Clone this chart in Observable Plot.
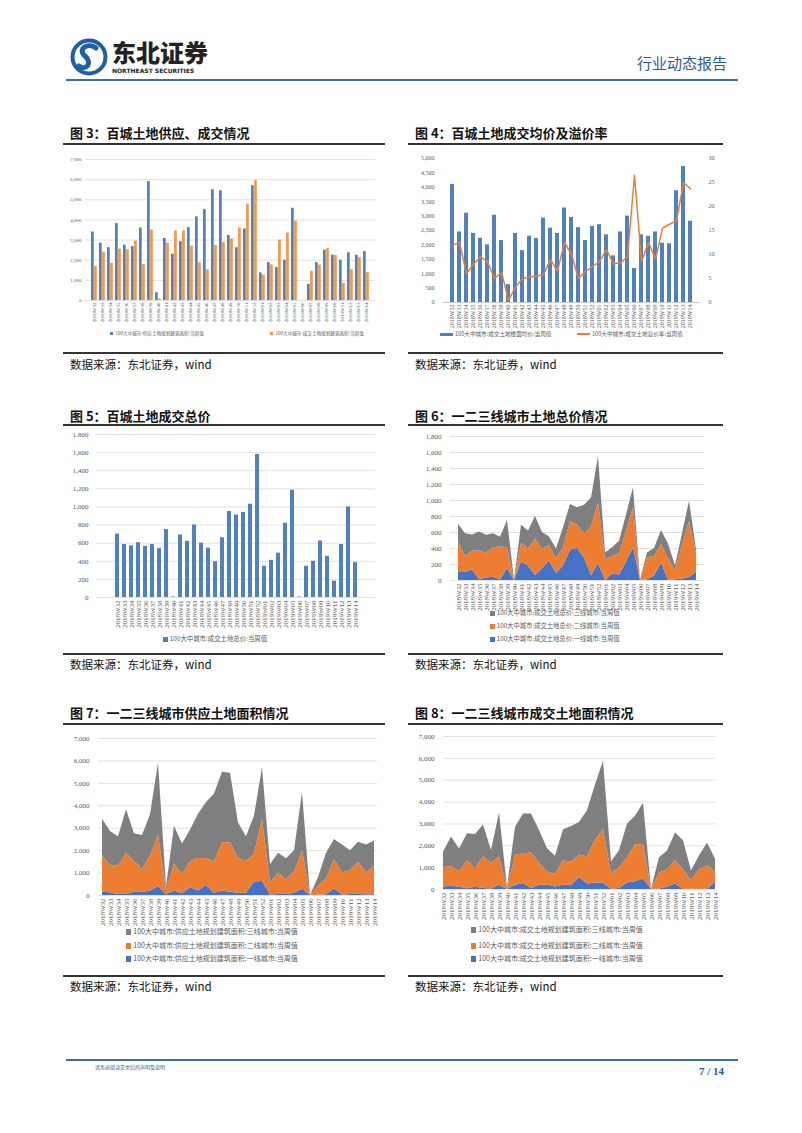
<!DOCTYPE html>
<html><head><meta charset="utf-8">
<script src="https://cdn.jsdelivr.net/npm/d3@7"></script>
<script src="https://cdn.jsdelivr.net/npm/@observablehq/plot@0.6"></script>
<style>
body{margin:0;background:#fff;}
#page{position:relative;width:802px;height:1133px;overflow:hidden;font-family:"Noto Sans CJK SC",sans-serif;}
#page svg{overflow:visible;}
.t{position:absolute;white-space:nowrap;line-height:1;}
.title{font-size:13px;font-weight:700;color:#111;}
.hr{position:absolute;background:#333;}
.src{font-size:11.5px;color:#111;}
.lg{color:#595959;white-space:nowrap;position:absolute;line-height:1;}
.sw{display:inline-block;vertical-align:middle;margin-right:2px;}
</style></head><body><div id="page"></div>
<script>
// ---------- data ----------
const weeks = ["2018W32","2018W33","2018W34","2018W35","2018W36","2018W37","2018W38","2018W39","2018W40","2018W41","2018W42","2018W43","2018W44","2018W45","2018W46","2018W47","2018W48","2018W49","2018W50","2018W51","2018W52","2019W01","2019W02","2019W03","2019W04","2019W05","2019W06","2019W07","2019W08","2019W09","2019W10","2019W11","2019W12","2019W13","2019W14"];
// Fig 3
const supplyArea = [3400,2850,2620,3820,2750,2670,3600,5900,380,3080,2300,2920,3620,4150,4520,5500,5450,3230,2620,3550,5700,1370,1880,1640,2000,4580,0,800,1880,2500,2250,2000,2370,2250,2430];
const dealArea = [1700,2400,1850,2550,2520,2950,1790,3500,80,2850,3450,3450,2700,1870,1520,2730,2880,3060,3600,4780,5950,1260,1770,3000,3350,3950,0,1450,1760,2580,2230,850,1530,2130,1380];
// Fig 4
const avgPrice = [4100,2450,3100,2400,2230,2000,3030,2150,620,2400,1800,2300,2220,2930,2580,2400,3280,2950,2600,2150,2640,2700,2350,1620,2450,3000,1180,2350,2300,2450,2060,2040,3880,4720,2820];
const premium = [12,12.5,6,8,9.5,8.5,5,6.3,0.5,3.2,5,5.3,5.5,5.8,9,6.5,12.5,10,5,6.5,7.5,8.5,11,8,8.3,9.5,26.5,8.5,12.5,9,15.5,16.3,17,25,23.7];
// Fig 5
const totalPrice = [700,585,570,605,565,585,540,750,5,690,620,800,600,545,395,660,950,910,940,1030,1580,345,410,490,820,1185,5,345,400,625,455,180,585,1000,385];
// Fig 6 (stacked by tier)
const price1 = [100,100,130,10,30,40,5,150,0,230,180,60,150,240,90,180,380,400,280,60,210,0,80,70,230,410,0,10,60,220,0,10,20,40,100];
const price2 = [380,200,240,360,310,370,415,260,0,240,210,460,240,200,180,230,360,290,300,610,760,260,220,260,390,500,0,270,240,230,270,120,410,700,230];
const price3 = [220,285,200,235,225,175,120,340,5,220,230,280,210,105,125,250,210,220,360,360,580,85,110,160,200,250,5,65,100,175,185,50,155,250,55];
// Fig 7
const supply1 = [150,120,50,50,150,130,200,400,50,200,80,350,200,450,100,200,150,100,100,600,620,20,50,50,100,280,0,10,30,300,10,50,50,30,30];
const supply2 = [1600,1230,1250,1820,1380,1020,1550,2300,200,1200,870,1150,1450,1200,1400,2150,2200,1550,1420,1250,2780,530,950,650,950,1720,0,390,720,1300,990,1050,1430,970,1270];
const supply3 = [1650,1500,1320,1950,1220,1520,1850,3200,130,1680,1350,1420,1970,2500,3020,3150,3100,1580,1100,1700,2300,820,880,940,950,2580,0,400,1130,900,1250,900,890,1250,1130];
// Fig 8
const deal1 = [120,150,100,30,100,50,20,200,0,200,280,50,200,200,120,200,200,550,250,300,300,0,50,300,350,480,0,20,100,250,0,10,0,10,330];
const deal2 = [880,900,730,1290,850,1450,1180,1300,50,1380,1340,1630,1000,600,580,1120,1050,1030,1250,1950,2450,720,950,1150,1700,1570,0,730,800,1070,900,390,900,1070,500];
const deal3 = [700,1350,1020,1230,1570,1450,590,2000,30,1270,1830,1770,1500,1070,820,1410,1630,1480,2100,2530,3120,540,770,1550,1300,1900,0,700,860,1260,1330,450,630,1050,550];

const tiers = ["一线城市","二线城市","三线城市"];
const BLUE = "#4F81BD", ORANGE = "#F79646", ABLUE = "#4472C4", AORANGE = "#ED7D31", GRAY = "#7F7F7F", GRID = "#d9d9d9";

// ---------- helpers ----------
const page = document.getElementById("page");
function put(el, left, top){ el.style.position="absolute"; el.style.left=left+"px"; el.style.top=top+"px"; page.appendChild(el); return el; }
function text(str, cls, left, top, extra){ const d=document.createElement("div"); d.className="t "+cls; d.textContent=str; if(extra) Object.assign(d.style, extra); return put(d,left,top); }
function hr(left, top, w, h, color){ const d=document.createElement("div"); d.className="hr"; Object.assign(d.style,{left:left+"px",top:top+"px",width:w+"px",height:h+"px",background:color||"#333"}); page.appendChild(d); }
function legendItem(label, color, left, top, size, kind){
  const d=document.createElement("div"); d.className="lg"; d.style.fontSize=size+"px";
  const s=document.createElement("span"); s.className="sw"; s.style.background=color;
  if(kind==="line"){ s.style.width="13px"; s.style.height="2px"; }
  else if(kind==="wide"){ s.style.width="13px"; s.style.height="3px"; }
  else { s.style.width=(size*0.75)+"px"; s.style.height=(size*0.75)+"px"; }
  d.appendChild(s); d.appendChild(document.createTextNode(label));
  return put(d,left,top);
}
const baseStyle = (fs)=>({background:"transparent", fontFamily:"'Liberation Serif', serif", fontSize:fs+"px", color:"#595959", overflow:"visible"});
const fmt = d3.format(",");

// ---------- header ----------
const logo = document.createElementNS("http://www.w3.org/2000/svg","svg");
logo.setAttribute("width","40"); logo.setAttribute("height","40");
logo.innerHTML = '<circle cx="20" cy="20" r="16.5" fill="none" stroke="#1f5fa6" stroke-width="4"/>'+
 '<path d="M27 11 C 19 5, 8 12, 16 19 C 24 26, 17 34, 10 29" fill="none" stroke="#1f5fa6" stroke-width="5" stroke-linecap="round"/>';
put(logo, 69, 37);
text("东北证券","",112,40,{fontSize:"24px",fontWeight:"900",color:"#222"});
text("NORTHEAST SECURITIES","",112,68,{fontSize:"6px",fontWeight:"700",color:"#222",fontFamily:"'DejaVu Sans',sans-serif"});
text("行业动态报告","",637,55,{fontSize:"15px",color:"#2a5b9a"});
hr(66,79,672,2,"#3a6ea5");
// footer
hr(66,1059,672,2,"#3a6ea5");
text("请务必阅读正文后的声明及说明","",95,1064,{fontSize:"5px",color:"#2a5b9a"});
text("7 / 14","",699,1066,{fontSize:"11px",fontWeight:"700",color:"#2a5b9a",fontFamily:"'Liberation Serif',serif"});

// ---------- section frames ----------
function frame(title, col, tTop, lineY, botY, srcY){
  const L = col===0 ? 63 : 408, W = col===0 ? 322 : 315;
  text(title,"title",L+7,tTop);
  hr(L,lineY,W,2,"#333");
  hr(L,botY,W,1.5,"#333");
  text("数据来源：东北证券，wind","src",L+7,srcY);
}
frame("图 3：百城土地供应、成交情况",0,126,143,352,359);
frame("图 4：百城土地成交均价及溢价率",1,126,143,352,359);
frame("图 5：百城土地成交总价",0,409,424,653,659);
frame("图 6：一二三线城市土地总价情况",1,409,424,653,659);
frame("图 7：一二三线城市供应土地面积情况",0,706,723,975,981);
frame("图 8：一二三线城市成交土地面积情况",1,706,723,975,981);

// ---------- Fig 3 ----------
{
  const data = weeks.map((w,i)=>({week:w, supply:supplyArea[i], deal:dealArea[i]}));
  const ticks = d3.range(0,7001,1000);
  const p = Plot.plot({
    width:320, height:172, marginLeft:25, marginRight:5, marginTop:9, marginBottom:22,
    style: baseStyle(5),
    x:{domain:weeks, padding:0, tickSize:0, tickRotate:-90, tickPadding:2, label:null},
    y:{domain:[0,7000], ticks, tickSize:0, tickPadding:4, tickFormat:fmt, label:null},
    marks:[
      Plot.ruleY(ticks,{stroke:GRID, strokeWidth:0.8}),
      Plot.barY(data,{x:"week", y:"supply", fill:BLUE, insetLeft:1, insetRight:4.3}),
      Plot.barY(data,{x:"week", y:"deal", fill:ORANGE, insetLeft:4.1, insetRight:1.2})
    ]
  });
  put(p,60,150);
  legendItem("100大中城市:供应土地规划建筑面积:当周值",BLUE,110,331,4.6);
  legendItem("100大中城市:成交土地规划建筑面积:当周值",ORANGE,270,331,4.6);
}

// ---------- Fig 4 (dual axis, two overlaid plots) ----------
{
  const data = weeks.map((w,i)=>({week:w, price:avgPrice[i], rate:premium[i]}));
  const common = {width:315, height:177, marginLeft:37, marginRight:20, marginTop:8, marginBottom:25};
  const p1 = Plot.plot({
    ...common, style: baseStyle(6),
    x:{domain:weeks, padding:0.42, tickSize:0, tickRotate:-90, tickPadding:2, label:null},
    y:{domain:[0,5000], ticks:d3.range(0,5001,500), tickSize:0, tickPadding:8, tickFormat:fmt, label:null},
    marks:[
      Plot.barY(data,{x:"week", y:"price", fill:BLUE}),
      Plot.ruleY([0],{stroke:"#bfbfbf", strokeWidth:0.8})
    ]
  });
  const p2 = Plot.plot({
    ...common, style: baseStyle(6),
    x:{domain:weeks, padding:0.42, axis:null},
    y:{domain:[0,30], ticks:d3.range(0,31,5), tickSize:0, tickPadding:8, axis:"right", label:null},
    marks:[
      Plot.line(data,{x:"week", y:"rate", stroke:AORANGE, strokeWidth:1.5})
    ]
  });
  put(p1,405,150); put(p2,405,150);
  legendItem("100大中城市:成交土地楼面均价:当周值",BLUE,440,332,5.6,"wide");
  legendItem("100大中城市:成交土地溢价率:当周值",AORANGE,577,332,5.6,"line");
}

// ---------- Fig 5 ----------
{
  const data = weeks.map((w,i)=>({week:w, v:totalPrice[i]}));
  const ticks = d3.range(0,1801,200);
  const p = Plot.plot({
    width:320, height:202, marginLeft:36, marginRight:5, marginTop:9, marginBottom:30,
    style: baseStyle(7),
    x:{domain:weeks, padding:0.5, tickSize:0, tickRotate:-90, tickPadding:3, label:null},
    y:{domain:[0,1800], ticks, tickSize:0, tickPadding:8, tickFormat:fmt, label:null},
    marks:[
      Plot.ruleY(ticks,{stroke:GRID, strokeWidth:0.8}),
      Plot.barY(data,{x:"week", y:"v", fill:BLUE})
    ]
  });
  put(p,60,425);
  legendItem("100大中城市:成交土地总价:当周值",BLUE,163,636,6.4);
}

// ---------- stacked area helper ----------
function areaChart(s1,s2,s3,domainMax,step,opts,left,top){
  const data = [];
  [s1,s2,s3].forEach((s,k)=>weeks.forEach((w,i)=>data.push({week:w, tier:tiers[k], v:s[i]})));
  const ticks = d3.range(0,domainMax+1,step);
  const p = Plot.plot({
    ...opts, style: baseStyle(7),
    x:{type:"point", domain:weeks, padding:0, tickSize:0, tickRotate:-90, tickPadding:3, label:null},
    y:{domain:[0,domainMax], ticks, tickSize:0, tickPadding:9, tickFormat:fmt, label:null},
    color:{domain:tiers, range:[ABLUE,AORANGE,GRAY]},
    marks:[
      Plot.ruleY(ticks,{stroke:GRID, strokeWidth:0.8}),
      Plot.areaY(data,{x:"week", y:"v", fill:"tier", z:"tier"})
    ]
  });
  put(p,left,top);
}

// ---------- Fig 6 ----------
areaChart(price1,price2,price3,1800,200,{width:305,height:183,marginLeft:45,marginRight:6,marginTop:11,marginBottom:28},405,425);
legendItem("100大中城市:成交土地总价:三线城市:当周值",GRAY,490,610,6.3);
legendItem("100大中城市:成交土地总价:二线城市:当周值",AORANGE,490,623,6.3);
legendItem("100大中城市:成交土地总价:一线城市:当周值",ABLUE,490,636,6.3);

// ---------- Fig 7 ----------
areaChart(supply1,supply2,supply3,7000,1000,{width:320,height:200,marginLeft:38,marginRight:3,marginTop:13,marginBottom:30},60,725);
legendItem("100大中城市:供应土地规划建筑面积:三线城市:当周值",GRAY,126,928,7);
legendItem("100大中城市:供应土地规划建筑面积:二线城市:当周值",AORANGE,126,942,7);
legendItem("100大中城市:供应土地规划建筑面积:一线城市:当周值",ABLUE,126,955,7);

// ---------- Fig 8 ----------
areaChart(deal1,deal2,deal3,7000,1000,{width:315,height:194,marginLeft:38,marginRight:5,marginTop:11,marginBottom:30},405,725);
legendItem("100大中城市:成交土地规划建筑面积:三线城市:当周值",GRAY,471,926,7);
legendItem("100大中城市:成交土地规划建筑面积:二线城市:当周值",AORANGE,471,942,7);
legendItem("100大中城市:成交土地规划建筑面积:一线城市:当周值",ABLUE,471,955,7);
</script></body></html>
